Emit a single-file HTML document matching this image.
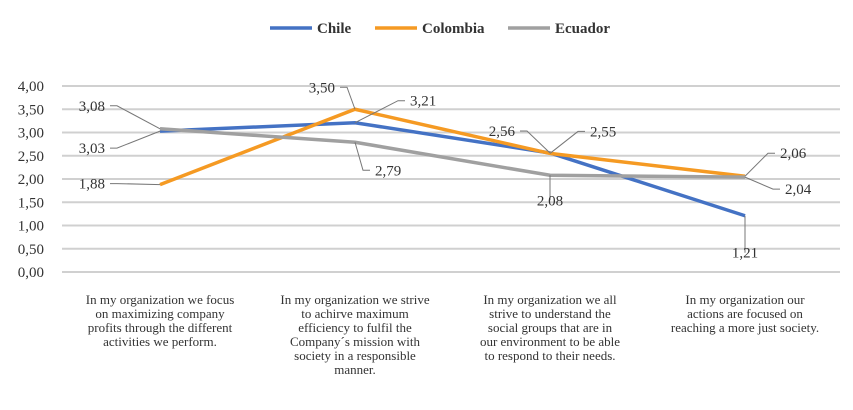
<!DOCTYPE html>
<html><head><meta charset="utf-8"><style>
body{margin:0;background:#fff;width:853px;height:405px;overflow:hidden}
svg{font-family:"Liberation Serif",serif}
</style></head><body>
<svg id="c" width="853" height="405"></svg>
<script>
const categories=["In my organization we focus|on maximizing company|profits through the different|activities we perform.","In my organization we strive|to achirve maximum|efficiency to fulfil the|Company´s mission with|society in a responsible|manner.","In my organization we all|strive to understand the|social groups that are in|our environment to be able|to respond to their needs.","In my organization our|actions are focused on|reaching a more just society."];
const seriesNames=["Chile","Colombia","Ecuador"];
const chile=[3.03,3.21,2.56,1.21];
const colombia=[1.88,3.50,2.55,2.06];
const ecuador=[3.08,2.79,2.08,2.04];
const yTicks=[0,0.5,1,1.5,2,2.5,3,3.5,4];
const colors=["#4472c4","#f59a23","#a0a0a0"];
const NS="http://www.w3.org/2000/svg",svg=document.getElementById('c');
function el(t,a,p){const e=document.createElementNS(NS,t);for(const k in a)e.setAttribute(k,a[k]);(p||svg).appendChild(e);return e;}
const y=v=>272-v*46.5, x=i=>160+i*195;
yTicks.forEach(v=>{const l=el('line',{x1:62,x2:840,y1:y(v),y2:y(v),stroke:'#d0d0d0','stroke-width':2});

const t=el('text',{x:44,y:y(v)+5,'text-anchor':'end','font-size':15,fill:'#333'});t.textContent=v.toFixed(2).replace('.',',');
});
categories.forEach((c,i)=>{const t=el('text',{'text-anchor':'middle','font-size':13,fill:'#333'});

c.split('|').forEach((s,j)=>{const ts=el('tspan',{x:x(i),y:304+j*14},t);ts.textContent=s;});});
const data=[chile,colombia,ecuador];
data.forEach((d,s)=>{const p=el('polyline',{points:d.map((v,i)=>x(i)+','+y(v)).join(' '),fill:'none',stroke:colors[s],'stroke-width':3.5});
});
const off=[[[-55,22],[55,-17],[-35,-17],[0,42]],[[-55,4],[-20,-17],[40,-17],[35,-18]],[[-55,-18],[20,33],[0,30],[40,17]]];
data.forEach((d,s)=>d.forEach((v,i)=>{const [dx,dy]=off[s][i];const lx=x(i)+dx,ly=y(v)+dy;
const ln=el('polyline',{points:`${x(i)},${y(v)} ${lx+(dx<0?12:dx>0?-12:0)},${ly-5} ${lx+(dx<0?5:dx>0?-5:0)},${ly-5}`,fill:'none',stroke:'#777','stroke-width':1});

const t=el('text',{x:lx,y:ly,'text-anchor':dx<0?'end':dx>0?'start':'middle','font-size':15,fill:'#333'});t.textContent=v.toFixed(2).replace('.',',');
}));
const lx=[270,375,508];
seriesNames.forEach((n,s)=>{const g=el('g',{});
el('line',{x1:lx[s],x2:lx[s]+42,y1:28,y2:28,stroke:colors[s],'stroke-width':3.5},g);
const t=el('text',{x:lx[s]+47,y:33,'font-size':15,'font-weight':'bold',fill:'#333'},g);t.textContent=n;});
</script></body></html>
